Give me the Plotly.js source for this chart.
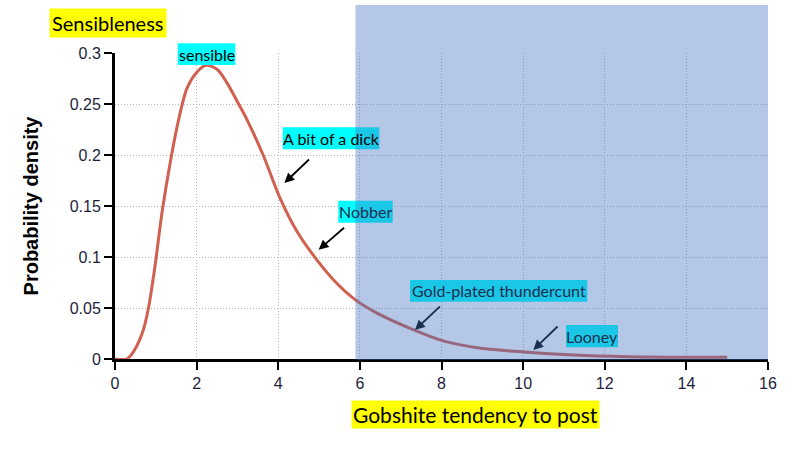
<!DOCTYPE html>
<html>
<head>
<meta charset="utf-8">
<script src="https://cdn.plot.ly/plotly-3.0.1.min.js"></script>
<style>
  html, body { margin: 0; padding: 0; background: #ffffff; }
  #chart { width: 796px; height: 450px; }
</style>
</head>
<body>
<div id="chart"></div>
<script>
// ---- data ----
const tendency = [0, 0.29, 0.45, 0.69, 0.82, 0.98, 1.15, 1.35, 1.55, 1.76, 2.0, 2.23, 2.5, 2.74, 3.03, 3.23, 3.64, 4.03, 4.46, 4.95, 5.44, 5.89, 6.42, 7.32, 8.02, 8.88, 10.02, 11.24, 12.56, 15.0];
const density  = [0, 0, 0.007, 0.028, 0.05, 0.091, 0.143, 0.192, 0.233, 0.265, 0.281, 0.288, 0.284, 0.271, 0.25, 0.235, 0.199, 0.159, 0.125, 0.097, 0.074, 0.058, 0.045, 0.0285, 0.018, 0.011, 0.0069, 0.0039, 0.0023, 0.0016];

const xTicks = [0, 2, 4, 6, 8, 10, 12, 14, 16];
const yTicks = [0, 0.05, 0.1, 0.15, 0.2, 0.25, 0.3];
const yTickText = ['0', '0.05', '0.1', '0.15', '0.2', '0.25', '0.3'];

const chartTitle = 'Sensibleness';
const xTitle = 'Gobshite tendency to post';
const yTitle = 'Probability density';

// labels: text, arrow head/tail (data coords)
const labelTexts = ['sensible', 'A bit of a dick', 'Nobber', 'Gold-plated thundercunt', 'Looney'];
const arrowHeadX = [null, 4.15, 4.99, 7.35, 10.25];
const arrowHeadY = [null, 0.1725, 0.107, 0.0284, 0.0088];
const arrowTailX = [null, 4.79, 5.65, 8.0, 10.88];
const arrowTailY = [null, 0.197, 0.130, 0.053, 0.0333];
const shadeFrom = 5.89;

// ---- layout helpers (pixel -> paper) ----
const L = 115, R = 768, T = 53, B = 359;
const PX = p => (p - L) / (R - L);
const PY = p => (B - p) / (B - T);
const labelBoxes = [
  [177.7, 43.3, 235.3, 65],
  [282.7, 127.3, 379.3, 149.3],
  [338.3, 200.7, 392.7, 222.7],
  [410, 280, 587.3, 301.7],
  [566, 325, 618, 347.3]
];

const shapes = [];
labelBoxes.forEach(b => {
  shapes.push({type: 'rect', xref: 'paper', yref: 'paper', layer: 'above',
    x0: PX(b[0]), x1: PX(b[2]), y0: PY(b[3]), y1: PY(b[1]),
    fillcolor: '#00ffff', line: {width: 0}});
});
shapes.push({type: 'rect', xref: 'x', yref: 'paper', layer: 'above',
  x0: shadeFrom, x1: 16, y0: PY(360), y1: PY(5),
  fillcolor: 'rgba(68,114,196,0.4)', line: {width: 0}});

const annotations = [];
labelTexts.forEach((t, i) => {
  const b = labelBoxes[i];
  const inBlue = ((b[0] + b[2]) / 2 - L) / (R - L) * 16 > shadeFrom;
  annotations.push({xref: 'paper', yref: 'paper', x: PX((b[0] + b[2]) / 2), y: PY((b[1] + b[3]) / 2),
    text: t, showarrow: false, xanchor: 'center', yanchor: 'middle',
    font: {family: 'Lato, sans-serif', size: 16, color: inBlue ? '#1b2e4e' : '#000000'}});
  if (arrowHeadX[i] !== null) {
    annotations.push({xref: 'x', yref: 'y', axref: 'x', ayref: 'y',
      x: arrowHeadX[i], y: arrowHeadY[i], ax: arrowTailX[i], ay: arrowTailY[i],
      text: '', showarrow: true, arrowhead: 2, arrowsize: 1.1, arrowwidth: 1.8,
      arrowcolor: arrowHeadX[i] > shadeFrom ? '#1b2e4e' : '#000000', standoff: 0, startstandoff: 0});
  }
});
annotations.push({xref: 'paper', yref: 'paper', x: PX(107.5), y: PY(23), text: chartTitle,
  showarrow: false, xanchor: 'center', yanchor: 'middle', bgcolor: '#ffff00', borderpad: 2,
  font: {family: 'Lato, sans-serif', size: 20, color: '#000000'}});
annotations.push({xref: 'paper', yref: 'paper', x: PX(475.5), y: PY(414), text: xTitle,
  showarrow: false, xanchor: 'center', yanchor: 'middle', bgcolor: '#ffff00', borderpad: 1,
  font: {family: 'Lato, sans-serif', size: 21, color: '#000000'}});

const trace = {
  x: tendency, y: density, type: 'scatter', mode: 'lines',
  line: {color: '#d0604f', width: 3, shape: 'spline', smoothing: 0.8},
  hoverinfo: 'skip'
};

const layout = {
  width: 796, height: 450,
  margin: {l: L, r: 796 - R, t: T, b: 450 - B},
  paper_bgcolor: '#ffffff', plot_bgcolor: '#ffffff',
  showlegend: false,
  xaxis: {
    range: [0, 16], tickmode: 'array', tickvals: xTicks,
    showline: true, linecolor: '#000000', linewidth: 3,
    ticks: 'outside', ticklen: 8, tickwidth: 2, tickcolor: '#000000',
    showgrid: true, gridcolor: '#b4b4b4', gridwidth: 1, griddash: '1px,2px',
    zeroline: false,
    tickfont: {family: 'Liberation Sans, Arial, sans-serif', size: 16, color: '#1e1e3c'}
  },
  yaxis: {
    range: [0, 0.3], tickmode: 'array', tickvals: yTicks, ticktext: yTickText,
    showline: true, linecolor: '#000000', linewidth: 3,
    ticks: 'outside', ticklen: 8, tickwidth: 2, tickcolor: '#000000',
    showgrid: true, gridcolor: '#b4b4b4', gridwidth: 1, griddash: '1px,2px',
    zeroline: false,
    title: {text: yTitle, standoff: 26, font: {family: 'Liberation Sans, Arial, sans-serif', size: 20, color: '#000000', weight: 'bold'}},
    tickfont: {family: 'Liberation Sans, Arial, sans-serif', size: 16, color: '#1e1e3c'}
  },
  shapes: shapes,
  annotations: annotations
};

Plotly.newPlot('chart', [trace], layout, {displayModeBar: false, staticPlot: true});
</script>
</body>
</html>
